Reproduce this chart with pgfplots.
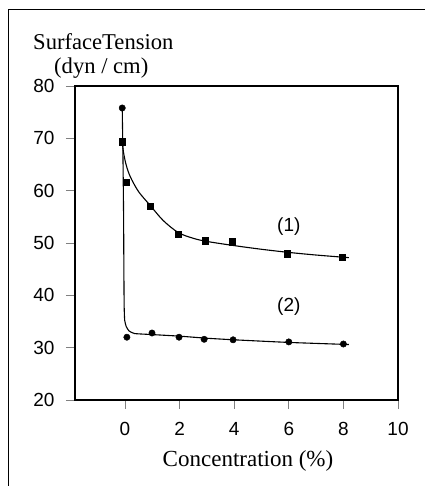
\documentclass[border=0pt]{standalone}
\usepackage{fontspec}
\setmainfont{Liberation Serif}
\newfontfamily\arial{Liberation Sans}
\usepackage{pgfplots}
\pgfplotsset{compat=1.18}
\begin{document}
\begin{tikzpicture}[x=1pt,y=1pt]
\useasboundingbox (0,0) rectangle (428,486);
\draw[line width=1.6pt] (8.5,0) -- (8.5,476.5) -- (425,476.5);
\node[anchor=base west,font=\fontsize{22.6}{22.6}\selectfont,inner sep=0] at (33,436) {SurfaceTension};
\node[anchor=base west,font=\fontsize{22.6}{22.6}\selectfont,inner sep=0] at (54,412) {(dyn / cm)};
\node[anchor=base,font=\fontsize{23}{23}\selectfont,inner sep=0] at (248,19) {Concentration (\%)};
\begin{axis}[
  at={(75pt,86pt)}, anchor=south west,
  scale only axis, width=323pt, height=314pt,
  xmin=-1.83, xmax=10, ymin=20, ymax=80,
  xtick={0,2,4,6,8,10}, ytick={20,30,40,50,60,70,80},
  tick align=outside, xtick pos=bottom, ytick pos=left,
  major tick length=9pt,
  x tick style={line width=0.6pt},
  y tick style={line width=0.9pt},
  axis line style={line width=1.3pt},
  /pgf/number format/assume math mode=true,
  ticklabel style={font=\arial\fontsize{19}{19}\selectfont},
  xticklabel style={yshift=-10pt},
  yticklabel style={xshift=-8pt},
  clip=false,
]
% fitted curve 1
\addplot[black, line width=1.1pt, smooth, tension=0.5] coordinates {
 (-0.1,69.4) (-0.05,67.2) (0.05,64.8) (0.2,62.6) (0.5,59.8) (0.92,57.2)
 (1.4,54.3) (1.95,52.0) (2.5,50.9) (3,50.3) (4,49.5) (5,48.8) (6,48.2) (7,47.7) (8.2,47.2)};
% fitted curve 2
\addplot[black, line width=1.1pt, smooth, tension=0.3] coordinates {
 (-0.1,75.8) (-0.07,65) (-0.05,55) (-0.04,45) (-0.03,38) (-0.01,35.2) (0.05,34.0)
 (0.15,33.2) (0.35,32.7) (1,32.5) (2,32.2) (3,31.8) (4,31.5) (6,31.0) (8.2,30.6)};
% data series 1 (squares)
\addplot[only marks, mark=square*, mark size=3.3pt, black] coordinates {
 (-0.1,69.4) (0.05,61.6) (0.92,57.0) (1.95,51.7) (2.94,50.4) (3.93,50.2) (5.94,47.9) (7.96,47.3)};
% data series 2 (circles)
\addplot[only marks, mark=*, mark size=3.2pt, black] coordinates {
 (-0.1,75.8) (0.07,32.0) (0.99,32.8) (1.98,32.0) (2.9,31.6) (3.96,31.5) (6.0,31.1) (8.0,30.7)};
\node[font=\arial\fontsize{19}{19}\selectfont] at (axis cs:6.0,53.1) {(1)};
\node[font=\arial\fontsize{19}{19}\selectfont] at (axis cs:6.0,37.8) {(2)};
\end{axis}
\end{tikzpicture}
\end{document}
